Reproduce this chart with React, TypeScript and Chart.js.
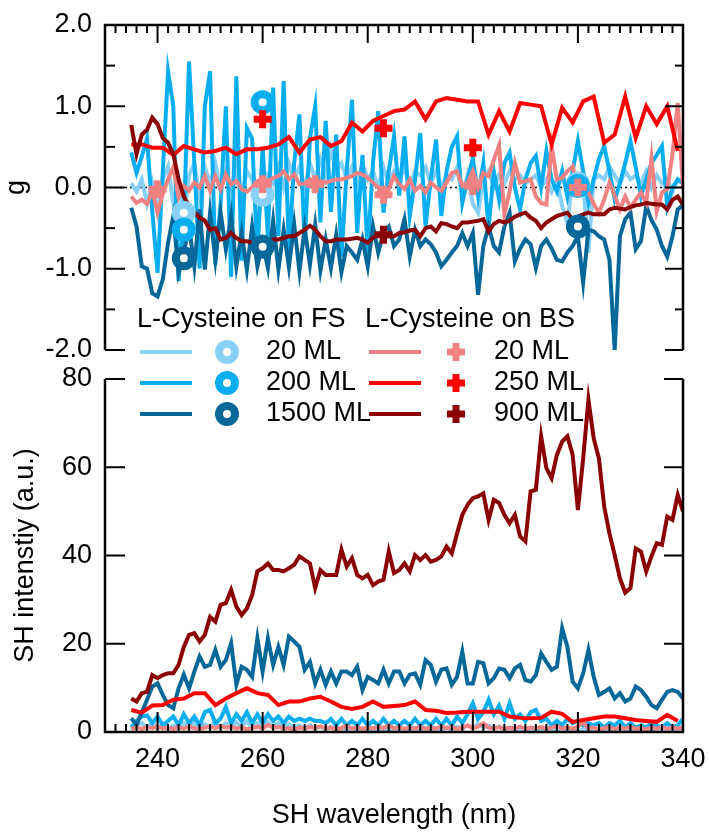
import React, { useEffect, useRef } from "react";
import { Chart, registerables } from "chart.js";

Chart.register(...registerables);

const W = 709;
const H = 832;
const FONT = "'Liberation Sans', Arial, sans-serif";
const FSIZE = 27;

// ---------- data ----------
const wavelengths = [
  235, 236, 237, 238, 239, 240, 241, 242, 243, 244,
  245, 246, 247, 248, 249, 250, 251, 252, 253, 254,
  255, 256, 257, 258, 259, 260, 261, 262, 263, 264,
  265, 266, 267, 268, 269, 270, 271, 272, 273, 274,
  275, 276, 277, 278, 279, 280, 281, 282, 283, 284,
  285, 286, 287, 288, 289, 290, 291, 292, 293, 294,
  295, 296, 297, 298, 299, 300, 301, 302, 303, 304,
  305, 306, 307, 308, 309, 310, 311, 312, 313, 314,
  315, 316, 317, 318, 319, 320, 321, 322, 323, 324,
  325, 326, 327, 328, 329, 330, 331, 332, 333, 334,
  335, 336, 337, 338, 339, 340,
];

const wavelengthsCoarse = [
  235, 237, 239, 241, 243, 245, 247, 249, 251, 253,
  255, 257, 259, 261, 263, 265, 267, 269, 271, 273,
  275, 277, 279, 281, 283, 285, 287, 289, 291, 293,
  295, 297, 299, 301, 303, 305, 307, 309, 311, 313,
  315, 317, 319, 321, 323, 325, 327, 329, 331, 333,
  335, 337, 339,
];

// g (top panel)
const gFS20 = [
  0.05, -0.05, 0.1, -0.2, 0.05, -0.3, 0.1, 0.26, -0.2, 0.1,
  -0.35, 0.15, 0.3, -0.1, 0.25, 0.05, 0.3, -0.05, 0.2, 0.0,
  0.25, -0.1, 0.2, 0.1, -0.15, -0.1, 0.15, 0.05, 0.25, 0.0,
  0.3, 0.1, 0.25, 0.0, 0.3, 0.1, 0.35, 0.15, 0.47, 0.2,
  0.3, 0.1, 0.25, 0.05, 0.3, 0.1, 0.2, 0.0, 0.25, 0.05,
  0.2, 0.1, 0.25, 0.0, 0.2, 0.15, 0.25, 0.05, 0.2, 0.0,
  0.15, 0.1, 0.25, -0.1, 0.15, -0.2, -0.31, 0.1, 0.2, 0.0,
  0.15, 0.05, 0.2, 0.1, 0.15, 0.05, 0.1, 0.15, 0.0, 0.1,
  -0.05, 0.1, -0.23, -0.43, 0.1, 0.0, 0.05, -0.8, 0.1, 0.15,
  0.1, 0.26, 0.15, 0.05, 0.2, 0.1, 0.15, 0.05, 0.2, 0.0,
  0.15, 0.05, 0.1, -0.05, 0.1, 0.05,
];
const gFS200 = [
  0.43, 0.18, 0.38, 0.6, -0.3, -1.05, 0.2, 1.43, 1.0, -1.15,
  -0.4, 1.55, 0.3, -1.0, 1.0, 1.43, -0.95, -0.2, 1.0, -1.1,
  1.37, -0.9, 0.73, 0.6, -0.85, 0.5, -0.6, 1.23, -0.6, 1.31,
  -0.8, 0.3, 0.9, -0.7, 0.6, 1.0, -0.43, 0.82, -0.3, 0.65,
  -0.85, 0.2, 1.08, -0.56, 0.4, -0.8, 0.3, 0.94, -0.31, 0.2,
  0.63, -0.1, 0.63, -0.35, 0.1, 0.67, -0.48, 0.1, 0.59, -0.35,
  0.2, 0.5, 0.63, -0.19, 0.1, 0.36, -0.1, 0.3, -0.5, 0.2,
  -0.15, 0.3, 0.43, 0.0, -0.27, 0.1, 0.3, 0.39, 0.0, 0.45,
  0.1, -0.05, 0.2, -0.11, 0.2, 0.57, 0.2, -0.19, 0.1, 0.35,
  0.51, 0.2, -0.15, 0.05, 0.3, 0.57, 0.25, -0.11, 0.1, 0.3,
  0.4, 0.51, -0.23, 0.0, 0.1, 0.05,
];
const gFS1500 = [
  -0.25, -0.48, -0.97, -1.0, -1.3, -1.34, -1.13, -0.68, -0.35, -1.05,
  -0.8, -0.48, -0.97, -0.27, -1.01, -0.31, -0.89, -0.31, -0.76, -0.35,
  -0.97, -0.56, -1.01, -0.48, -0.97, -0.68, -0.99, -0.41, -1.01, -0.52,
  -0.98, -0.45, -1.03, -0.5, -0.95, -0.46, -1.02, -0.64, -0.99, -0.58,
  -1.04, -0.72, -0.8, -0.89, -0.64, -0.97, -0.48, -0.8, -0.55, -0.48,
  -0.72, -0.64, -0.39, -0.85, -0.52, -0.72, -0.64, -0.7, -0.8, -0.97,
  -0.89, -0.8, -0.72, -0.56, -0.72, -0.56, -1.32, -0.72, -0.48, -0.72,
  -0.8, -0.48, -0.31, -0.91, -0.75, -0.64, -0.7, -0.99, -0.72, -0.64,
  -0.75, -0.89, -0.91, -0.8, -0.72, -0.6, -1.17, -0.52, -0.54, -0.6,
  -0.64, -0.89, -2.0, -0.6, -0.39, -0.31, -0.76, -0.66, -0.23, -0.4,
  -0.52, -0.72, -0.85, -0.6, -0.27, -0.22,
];
const gBS20 = [
  -0.11, -0.19, -0.15, -0.2, -0.05, -0.31, -0.08, 0.1, 0.25, -0.12,
  0.02, -0.04, 0.06, 0.0, 0.14, -0.04, 0.14, -0.02, 0.16, 0.04,
  0.08, -0.02, -0.05, 0.0, 0.08, 0.1, 0.08, 0.12, 0.14, 0.2,
  0.1, 0.16, 0.04, 0.05, 0.1, 0.04, 0.08, 0.06, 0.08, 0.1,
  0.1, 0.12, 0.14, 0.18, 0.16, 0.12, 0.06, 0.0, -0.14, -0.02,
  0.14, 0.04, -0.02, 0.1, -0.04, 0.02, -0.06, 0.06, 0.0, -0.04,
  0.06, 0.18, 0.2, 0.02, 0.06, 0.2, 0.0, 0.18, 0.14, 0.34,
  0.52, -0.33, -0.05, 0.3, 0.06, 0.08, 0.1, -0.11, -0.19, -0.21,
  0.51, 0.1, 0.12, 0.2, 0.26, -0.02, -0.02, -0.06, -0.2, -0.31,
  -0.15, 0.06, -0.1, -0.27, -0.11, -0.25, -0.15, -0.06, -0.19, 0.36,
  -0.29, -0.06, -0.02, 0.41, 1.04, 0.0,
];
const gBS250 = [
  0.53, 0.53, 0.49, 0.49, 0.4, 0.51, 0.47, 0.43, 0.45, 0.49,
  0.41, 0.47, 0.47, 0.49, 0.53, 0.62, 0.43, 0.59, 0.62, 0.51,
  0.57, 0.8, 0.69, 0.82, 0.88, 0.94, 0.96, 1.06, 0.84, 1.06,
  1.1, 1.08, 1.06, 1.06, 0.65, 0.94, 0.69, 1.04, 1.02, 1.0,
  0.53, 0.98, 0.8, 1.06, 1.12, 0.55, 0.65, 1.12, 0.61, 1.0,
  0.78, 1.0, 0.45,
];
const gBS900 = [
  0.77, 0.41, 0.65, 0.71, 0.86, 0.78, 0.61, 0.55, 0.41, 0.1,
  -0.11, -0.23, -0.31, -0.37, -0.41, -0.52, -0.5, -0.64, -0.62, -0.56,
  -0.62, -0.66, -0.66, -0.68, -0.74, -0.72, -0.68, -0.64, -0.64, -0.62,
  -0.6, -0.6, -0.56, -0.52, -0.47, -0.52, -0.6, -0.66, -0.66, -0.64,
  -0.64, -0.64, -0.63, -0.62, -0.64, -0.68, -0.62, -0.58, -0.56, -0.6,
  -0.6, -0.56, -0.55, -0.53, -0.52, -0.6, -0.5, -0.48, -0.54, -0.44,
  -0.45, -0.48, -0.5, -0.43, -0.43, -0.42, -0.41, -0.39, -0.54, -0.45,
  -0.41, -0.43, -0.41, -0.36, -0.33, -0.31, -0.37, -0.41, -0.5, -0.43,
  -0.39, -0.35, -0.33, -0.31, -0.39, -0.36, -0.33, -0.31, -0.33, -0.33,
  -0.33, -0.27, -0.25, -0.26, -0.27, -0.24, -0.22, -0.21, -0.19, -0.2,
  -0.21, -0.21, -0.27, -0.15, -0.11, -0.21,
];

// marker values (top panel)
const fsMarkerWavelengths = [245, 260, 320];
const gMarkFS20 = [-0.31, -0.09, 0.05];
const gMarkFS200 = [-0.52, 1.05, 0.02];
const gMarkFS1500 = [-0.87, -0.73, -0.48];
const bs20MarkerWavelengths = [240, 260, 270, 283, 300, 320];
const gMarkBS20 = [-0.02, 0.04, 0.04, -0.09, 0.02, 0.0];
const bs250MarkerWavelengths = [260, 283, 300];
const gMarkBS250 = [0.84, 0.73, 0.49];
const bs900MarkerWavelengths = [283];
const gMarkBS900 = [-0.58];

// SH intensity (bottom panel)
const iFS20 = [
  0.5, 1.5, 2.0, 1.0, 2.2, 0.8, 1.8, 0.6, 1.5, 0.8,
  2.0, 1.0, 2.2, 0.8, 1.8, 1.0, 2.5, 1.0, 2.0, 0.8,
  2.2, 1.2, 2.5, 1.0, 2.0, 1.0, 2.2, 1.2, 2.0, 1.0,
  1.8, 1.0, 1.5, 0.8, 1.5, 0.8, 1.2, 0.6, 1.2, 0.5,
  1.0, 0.5, 1.0, 0.4, 0.8, 0.5, 0.8, 0.3, 0.8, 0.4,
  0.7, 0.3, 0.8, 0.4, 0.8, 0.5, 1.0, 0.5, 0.9, 0.4,
  1.0, 0.6, 1.2, 0.8, 1.5, 1.0, 1.8, 1.0, 1.5, 0.8,
  1.2, 0.5, 1.0, 0.4, 0.8, 0.3, 0.8, 0.3, 0.6, 0.3,
  0.8, 0.4, 1.0, 0.4, 0.7, 0.2, 0.6, 0.2, 0.5, 0.2,
  0.6, 0.3, 0.5, 0.2, 0.6, 0.2, 0.5, 0.3, 0.6, 0.2,
  0.5, 0.8, 0.4, 0.6, 0.3, 0.5,
];
const iFS200 = [
  1.0, 2.5, 3.5, 3.8, 2.0, 3.5, 1.5, 2.5, 3.5, 1.5,
  4.0, 2.0, 3.5, 1.5, 4.5, 5.0, 2.0, 3.0, 5.7, 2.0,
  4.0, 2.5, 4.5, 2.0, 4.0, 2.0, 4.0, 2.5, 3.5, 2.0,
  3.5, 2.5, 3.0, 2.5, 3.0, 2.5, 2.5, 2.0, 3.0, 1.5,
  3.0, 1.5, 2.5, 1.5, 3.0, 1.5, 2.5, 1.5, 3.0, 1.5,
  2.5, 1.5, 2.5, 1.5, 3.0, 1.5, 2.5, 1.5, 3.0, 1.5,
  3.0, 1.5, 3.5, 2.0, 4.0, 6.5, 3.0, 4.5, 7.3, 4.0,
  6.0, 3.0, 6.5, 3.0, 4.0, 2.5, 4.5, 5.0, 2.5, 3.0,
  1.5, 2.5, 1.5, 3.0, 2.0, 2.5, 1.5, 2.0, 1.5, 2.0,
  1.0, 2.0, 1.5, 2.5, 1.0, 2.0, 1.0, 1.5, 1.0, 2.0,
  1.5, 1.0, 2.0, 1.0, 1.5, 3.0,
];
const iFS1500 = [
  3.1, 1.6, 4.5, 7.3, 10.3, 11.0, 8.4, 6.1, 5.4, 9.9,
  13.0, 9.9, 13.7, 17.1, 14.8, 15.2, 18.6, 14.8, 16.3, 20.1,
  10.7, 14.8, 14.1, 12.5, 21.2, 13.7, 21.2, 15.2, 19.3, 15.2,
  21.6, 20.5, 19.3, 14.1, 15.9, 11.0, 14.1, 10.7, 13.7, 11.0,
  13.7, 13.7, 12.9, 14.8, 9.5, 12.5, 11.8, 11.0, 14.1, 11.0,
  13.7, 13.7, 11.0, 13.0, 13.3, 10.7, 16.3, 15.2, 11.4, 14.1,
  14.4, 10.7, 12.5, 18.2, 11.0, 11.0, 15.9, 15.6, 11.0, 12.2,
  14.4, 14.1, 12.2, 14.4, 15.2, 11.8, 11.4, 12.9, 17.8, 15.9,
  14.1, 14.8, 23.5, 19.3, 11.4, 9.9, 13.3, 18.6, 12.5, 8.4,
  9.1, 9.9, 7.6, 8.8, 6.9, 7.6, 10.3, 9.5, 8.0, 6.1,
  5.4, 7.3, 9.1, 9.5, 9.1, 7.6,
];
const iBS20 = [
  0.8, 1.0, 0.7, 1.1, 0.9, 1.2, 0.8, 1.0, 0.7, 1.1,
  0.8, 1.2, 0.9, 0.7, 1.0, 1.3, 0.9, 1.4, 1.0, 1.2,
  0.8, 1.1, 0.6, 0.9, 1.2, 0.8, 1.6, 1.0, 1.2, 0.8,
  0.9, 0.6, 1.0, 0.8, 1.1, 0.9, 1.3, 0.8, 1.0, 0.6,
  0.9, 1.4, 0.8, 1.1, 0.7, 1.0, 0.8, 1.2, 0.9, 1.5,
  0.8, 1.1, 0.7, 1.0, 0.8, 1.2, 0.7, 1.0, 0.8, 1.3,
  0.9, 1.1, 0.7, 1.0, 1.5, 0.9, 1.2, 2.0, 1.0, 0.8,
  1.1, 0.7, 1.0, 0.8, 1.2, 0.7, 1.0, 0.8, 1.1, 0.7,
  1.0, 1.4, 0.8, 1.0, 0.7, 1.2, 2.2, 0.8, 1.0, 0.6,
  0.9, 1.1, 0.7, 1.0, 0.8, 1.2, 0.7, 0.9, 0.6, 1.0,
  0.8, 1.1, 0.7, 1.0, 0.8, 1.0,
];
const iBS250 = [
  5.0, 4.4, 6.0, 6.1, 7.3, 7.6, 8.8, 8.8, 6.1, 7.6,
  8.8, 9.9, 8.8, 8.4, 6.1, 6.9, 6.9, 7.6, 8.0, 6.9,
  5.7, 5.2, 5.7, 6.9, 5.7, 5.9, 6.1, 6.9, 5.0, 4.8,
  4.3, 4.4, 4.6, 4.6, 4.6, 4.6, 3.5, 3.2, 3.1, 3.2,
  4.6, 4.1, 2.3, 2.7, 3.1, 3.5, 3.5, 3.1, 2.7, 2.5,
  2.3, 3.9, 2.5,
];
const iBS900 = [
  7.6, 6.9, 8.8, 9.1, 12.9, 12.2, 12.9, 13.3, 13.3, 15.2,
  19.3, 22.0, 22.4, 20.5, 22.0, 26.1, 25.0, 28.8, 29.2, 32.2,
  28.4, 26.5, 28.0, 31.0, 36.4, 37.1, 38.2, 36.7, 36.7, 36.4,
  37.1, 37.9, 39.8, 39.0, 38.2, 32.6, 36.7, 35.6, 35.6, 35.6,
  41.3, 37.5, 39.4, 35.6, 34.8, 35.6, 33.3, 34.1, 34.5, 40.9,
  36.0, 36.7, 38.2, 36.4, 40.1, 39.0, 40.1, 38.6, 39.0, 39.8,
  42.0, 40.5, 45.0, 49.2, 51.5, 53.0, 53.4, 54.1, 48.1, 52.6,
  51.9, 49.2, 47.3, 49.2, 44.3, 43.2, 54.5, 54.9, 67.0, 59.8,
  57.5, 62.8, 65.8, 67.0, 62.8, 50.3, 62.0, 75.3, 66.6, 62.0,
  51.1, 45.0, 40.1, 34.8, 31.6, 32.6, 41.6, 40.9, 36.4, 39.8,
  42.8, 42.4, 48.8, 48.1, 53.7, 50.0,
];

// ticks & labels
const xTicks = [240, 260, 280, 300, 320, 340];
const gTicks = [-2, -1, 0, 1, 2];
const gTickLabels = ["-2.0", "-1.0", "0.0", "1.0", "2.0"];
const iTicks = [0, 20, 40, 60, 80];
const iTickLabels = ["0", "20", "40", "60", "80"];
const legendHeaders = ["L-Cysteine on FS", "L-Cysteine on BS"];
const legendFSLabels = ["20 ML", "200 ML", "1500 ML"];
const legendBSLabels = ["20 ML", "250 ML", "900 ML"];

// ---------- styles ----------
const C = {
  fs20: "#88d0f6",
  fs200: "#08aef0",
  fs1500: "#066799",
  bs20: "#f28282",
  bs250: "#ff0000",
  bs900: "#8b0000",
};
const FS_COLORS = [C.fs20, C.fs200, C.fs1500];
const BS_COLORS = [C.bs20, C.bs250, C.bs900];

const font = { family: FONT, size: FSIZE };

function pts(xs: number[], ys: number[]) {
  return xs.map((x, i) => ({ x, y: ys[i] }));
}
function lineDs(label: string, xs: number[], ys: number[], color: string, order: number) {
  return {
    label,
    data: pts(xs, ys),
    borderColor: color,
    backgroundColor: color,
    borderWidth: 4,
    pointRadius: 0,
    tension: 0,
    fill: false,
    order,
  };
}
function ringDs(label: string, xs: number[], ys: number[], color: string, order: number) {
  return {
    label,
    data: pts(xs, ys),
    showLine: false,
    borderColor: color,
    backgroundColor: "#ffffff",
    pointBorderColor: color,
    pointBackgroundColor: "#ffffff",
    pointStyle: "circle",
    pointRadius: 8,
    pointBorderWidth: 8,
    order,
  };
}
function plusDs(label: string, xs: number[], ys: number[], color: string, order: number) {
  return {
    label,
    data: pts(xs, ys),
    showLine: false,
    borderColor: color,
    backgroundColor: color,
    pointBorderColor: color,
    pointBackgroundColor: color,
    pointStyle: "cross",
    pointRadius: 9,
    pointBorderWidth: 7,
    order,
  };
}

function seg(ctx: CanvasRenderingContext2D, x1: number, y1: number, x2: number, y2: number) {
  ctx.beginPath();
  ctx.moveTo(x1, y1);
  ctx.lineTo(x2, y2);
  ctx.stroke();
}

const topZeroLine = {
  id: "topZeroLine",
  beforeDatasetsDraw(chart: any) {
    const { ctx, chartArea: a, scales } = chart;
    const y0 = scales.y.getPixelForValue(0);
    ctx.save();
    ctx.strokeStyle = "#000";
    ctx.lineWidth = 1.6;
    ctx.setLineDash([2, 3]);
    seg(ctx, a.left, y0, a.right, y0);
    ctx.restore();
  },
};

const topFrame = {
  id: "topFrame",
  afterDraw(chart: any) {
    const { ctx, chartArea: a, scales } = chart;
    const xs = scales.x;
    const ys = scales.y;
    ctx.save();
    ctx.strokeStyle = "#000";
    ctx.lineCap = "butt";
    ctx.lineWidth = 2.5;
    ctx.beginPath();
    ctx.moveTo(a.left, a.bottom);
    ctx.lineTo(a.left, a.top);
    ctx.lineTo(a.right, a.top);
    ctx.lineTo(a.right, a.bottom);
    ctx.stroke();
    ctx.lineWidth = 2;
    for (let v = 232; v <= 340; v += 2) {
      const px = xs.getPixelForValue(v);
      const len = v % 20 === 0 ? 18 : 8;
      seg(ctx, px, a.top, px, a.top + len);
    }
    for (let k = -4; k <= 4; k++) {
      const py = ys.getPixelForValue(k / 2);
      const major = k % 2 === 0;
      seg(ctx, a.left, py, a.left + (major ? 20 : 10), py);
      seg(ctx, a.right - (major ? 18 : 8), py, a.right, py);
    }
    ctx.restore();
  },
};

const bottomFrame = {
  id: "bottomFrame",
  afterDraw(chart: any) {
    const { ctx, chartArea: a, scales } = chart;
    const xs = scales.x;
    const ys = scales.y;
    ctx.save();
    ctx.strokeStyle = "#000";
    ctx.lineCap = "butt";
    ctx.lineWidth = 2.5;
    ctx.beginPath();
    ctx.moveTo(a.left, a.top);
    ctx.lineTo(a.left, a.bottom);
    ctx.lineTo(a.right, a.bottom);
    ctx.lineTo(a.right, a.top);
    ctx.stroke();
    ctx.lineWidth = 2;
    for (let v = 232; v <= 340; v += 2) {
      const px = xs.getPixelForValue(v);
      const len = v % 20 === 0 ? 20 : 8;
      seg(ctx, px, a.bottom, px, a.bottom - len);
    }
    for (const v of iTicks) {
      const py = ys.getPixelForValue(v);
      seg(ctx, a.left, py, a.left + 20, py);
      seg(ctx, a.right - 19, py, a.right, py);
    }
    ctx.restore();
  },
};

function drawRing(ctx: CanvasRenderingContext2D, x: number, y: number, color: string) {
  ctx.beginPath();
  ctx.arc(x, y, 8, 0, Math.PI * 2);
  ctx.fillStyle = "#ffffff";
  ctx.fill();
  ctx.lineWidth = 8;
  ctx.strokeStyle = color;
  ctx.stroke();
}
function drawPlus(ctx: CanvasRenderingContext2D, x: number, y: number, color: string) {
  ctx.strokeStyle = color;
  ctx.lineWidth = 7;
  seg(ctx, x - 9, y, x + 9, y);
  seg(ctx, x, y - 9, x, y + 9);
}

const legendPlugin = {
  id: "legendPlugin",
  afterDraw(chart: any) {
    const ctx: CanvasRenderingContext2D = chart.ctx;
    const rows = [352, 383, 414];
    ctx.save();
    ctx.font = `${FSIZE}px ${FONT}`;
    ctx.textBaseline = "middle";
    ctx.textAlign = "left";
    ctx.fillStyle = "#000";
    ctx.fillText(legendHeaders[0], 137, 320);
    ctx.fillText(legendHeaders[1], 365, 320);
    ctx.lineCap = "butt";
    rows.forEach((ry, i) => {
      ctx.strokeStyle = FS_COLORS[i];
      ctx.lineWidth = 4;
      seg(ctx, 140, ry, 192, ry);
      drawRing(ctx, 227, ry, FS_COLORS[i]);
      ctx.fillStyle = "#000";
      ctx.fillText(legendFSLabels[i], 266, ry);

      ctx.strokeStyle = BS_COLORS[i];
      ctx.lineWidth = 4;
      seg(ctx, 369, ry, 421, ry);
      drawPlus(ctx, 456, ry, BS_COLORS[i]);
      ctx.fillStyle = "#000";
      ctx.fillText(legendBSLabels[i], 494, ry);
    });
    ctx.restore();
  },
};

function topConfig(): any {
  return {
    type: "line",
    data: {
      datasets: [
        lineDs("FS 20 ML", wavelengths, gFS20, C.fs20, 12),
        lineDs("FS 200 ML", wavelengths, gFS200, C.fs200, 11),
        lineDs("FS 1500 ML", wavelengths, gFS1500, C.fs1500, 10),
        lineDs("BS 20 ML", wavelengths, gBS20, C.bs20, 9),
        lineDs("BS 250 ML", wavelengthsCoarse, gBS250, C.bs250, 8),
        lineDs("BS 900 ML", wavelengths, gBS900, C.bs900, 7),
        ringDs("FS 20 ML avg", fsMarkerWavelengths, gMarkFS20, C.fs20, 6),
        ringDs("FS 200 ML avg", fsMarkerWavelengths, gMarkFS200, C.fs200, 5),
        ringDs("FS 1500 ML avg", fsMarkerWavelengths, gMarkFS1500, C.fs1500, 4),
        plusDs("BS 20 ML avg", bs20MarkerWavelengths, gMarkBS20, C.bs20, 3),
        plusDs("BS 250 ML avg", bs250MarkerWavelengths, gMarkBS250, C.bs250, 2),
        plusDs("BS 900 ML avg", bs900MarkerWavelengths, gMarkBS900, C.bs900, 1),
      ],
    },
    options: {
      animation: false,
      responsive: false,
      devicePixelRatio: 1,
      events: [],
      layout: { padding: { left: 0, right: 26, top: 25, bottom: 482 } },
      plugins: { legend: { display: false }, tooltip: { enabled: false } },
      scales: {
        x: { type: "linear", min: 230, max: 340, display: false },
        y: {
          type: "linear",
          min: -2,
          max: 2,
          afterFit: (s: any) => {
            s.width = 105;
            s.paddingTop = 0;
            s.paddingBottom = 0;
          },
          afterBuildTicks: (s: any) => {
            s.ticks = gTicks.map((v) => ({ value: v }));
          },
          ticks: {
            font,
            color: "#000",
            padding: 13,
            callback: (_v: any, i: number) => gTickLabels[i],
          },
          grid: { display: false, drawTicks: false },
          border: { display: false },
          title: { display: true, text: "g", font, color: "#000", padding: { top: 0, bottom: 0 } },
        },
      },
    },
    plugins: [topZeroLine, topFrame],
  };
}

function bottomConfig(): any {
  return {
    type: "line",
    data: {
      datasets: [
        lineDs("FS 20 ML", wavelengths, iFS20, C.fs20, 12),
        lineDs("FS 200 ML", wavelengths, iFS200, C.fs200, 11),
        lineDs("FS 1500 ML", wavelengths, iFS1500, C.fs1500, 10),
        lineDs("BS 20 ML", wavelengths, iBS20, C.bs20, 9),
        lineDs("BS 250 ML", wavelengthsCoarse, iBS250, C.bs250, 8),
        lineDs("BS 900 ML", wavelengths, iBS900, C.bs900, 7),
      ],
    },
    options: {
      animation: false,
      responsive: false,
      devicePixelRatio: 1,
      events: [],
      layout: { padding: { left: 0, right: 26, top: 379, bottom: 0 } },
      plugins: { legend: { display: false }, tooltip: { enabled: false } },
      scales: {
        x: {
          type: "linear",
          min: 230,
          max: 340,
          position: "bottom",
          afterFit: (s: any) => {
            s.height = 100;
            s.paddingLeft = 0;
            s.paddingRight = 0;
          },
          afterBuildTicks: (s: any) => {
            s.ticks = xTicks.map((v) => ({ value: v }));
          },
          ticks: {
            font,
            color: "#000",
            padding: 11,
            autoSkip: false,
            maxRotation: 0,
            callback: (_v: any, i: number) => String(xTicks[i]),
          },
          grid: { display: false, drawTicks: false },
          border: { display: false },
          title: {
            display: true,
            text: "SH wavelength (nm)",
            font,
            color: "#000",
            padding: { top: 0, bottom: 0 },
          },
        },
        y: {
          type: "linear",
          min: 0,
          max: 80,
          afterFit: (s: any) => {
            s.width = 105;
            s.paddingTop = 0;
            s.paddingBottom = 0;
          },
          afterBuildTicks: (s: any) => {
            s.ticks = iTicks.map((v) => ({ value: v }));
          },
          ticks: {
            font,
            color: "#000",
            padding: 13,
            callback: (_v: any, i: number) => iTickLabels[i],
          },
          grid: { display: false, drawTicks: false },
          border: { display: false },
          title: {
            display: true,
            text: "SH intenstiy (a.u.)",
            font,
            color: "#000",
            padding: { top: 9, bottom: 0 },
          },
        },
      },
    },
    plugins: [bottomFrame, legendPlugin],
  };
}

export default function App() {
  const topRef = useRef<HTMLCanvasElement | null>(null);
  const botRef = useRef<HTMLCanvasElement | null>(null);

  useEffect(() => {
    Chart.defaults.font.family = FONT;
    const top = new Chart(topRef.current as HTMLCanvasElement, topConfig());
    const bot = new Chart(botRef.current as HTMLCanvasElement, bottomConfig());
    return () => {
      top.destroy();
      bot.destroy();
    };
  }, []);

  return (
    <div style={{ position: "absolute", left: 0, top: 0, width: W, height: H, background: "#ffffff" }}>
      <canvas ref={topRef} width={W} height={H} style={{ position: "absolute", left: 0, top: 0 }} />
      <canvas ref={botRef} width={W} height={H} style={{ position: "absolute", left: 0, top: 0 }} />
    </div>
  );
}
